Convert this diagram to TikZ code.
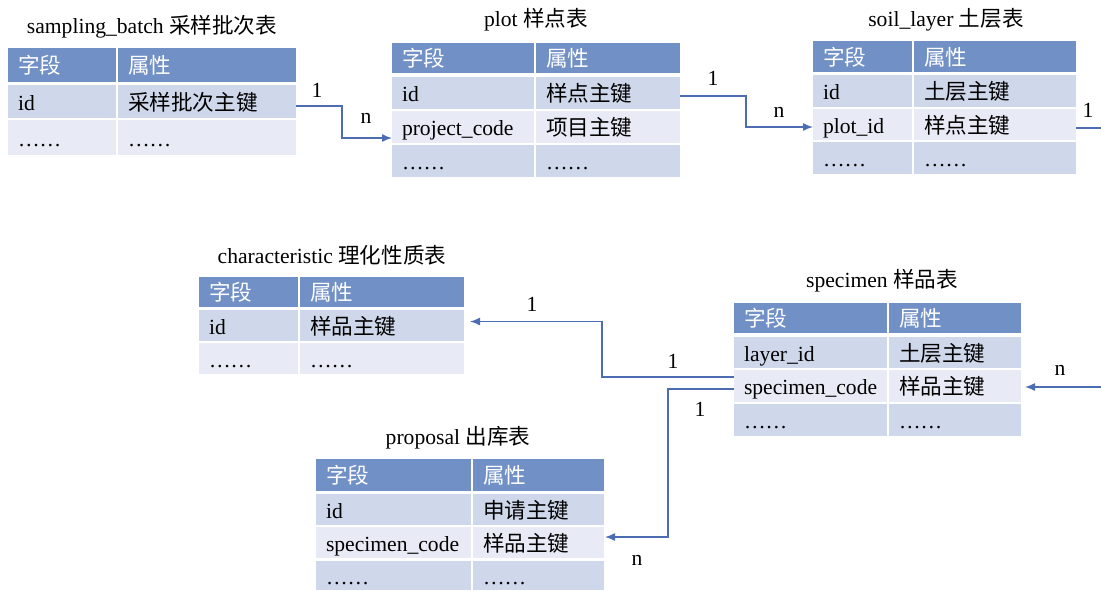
\documentclass[tikz,border=0pt]{standalone}
\usepackage{fontspec}
\setmainfont{Liberation Serif}
\newfontfamily\cjk{Noto Sans CJK SC}
\usetikzlibrary{arrows.meta}
\definecolor{hdr}{HTML}{7190C6}
\definecolor{bandA}{HTML}{CFD7EA}
\definecolor{bandB}{HTML}{E8EBF5}
\definecolor{conncol}{HTML}{4D6DB3}
\newcommand\zh[1]{{\cjk #1}}
\newcommand\tfont{\fontsize{21.6}{25}\selectfont}
\newcommand\trow[9]{%
  \pgfmathsetmacro\tAt{#4-21}\pgfmathsetmacro\tBt{#5-21}%
  \node[#7, minimum height=#6pt, text width=\tAt pt, anchor=north west] (#1a) at (#2,#3) {#8};
  \node[#7, minimum height=#6pt, text width=\tBt pt, anchor=north west] (#1b) at ([xshift=2pt]#1a.north east) {#9};
}
\tikzset{
  cell/.style={inner xsep=10pt, inner ysep=0pt, outer sep=0pt, align=left, text height=20pt, text depth=3pt, font=\tfont},
  hcell/.style={cell, fill=hdr, text=white},
  dcell/.style={cell, fill=bandA, text=black},
  lcell/.style={cell, fill=bandB, text=black},
  ttl/.style={font=\tfont, inner sep=0pt},
  lbl/.style={font=\tfont, inner sep=0pt},
  conn/.style={draw=conncol, line width=1.4pt},
  arr/.style={conn, -{Latex[length=10pt,width=8pt]}}
}
\begin{document}
\begin{tikzpicture}[x=1pt,y=-1pt]
\useasboundingbox (0,0) rectangle (1101,590);
\fill[white] (0,0) rectangle (1101,590);

% sampling_batch
\node[ttl] (sbt) at (152,27) {sampling\_batch \zh{采样批次表}};
\trow{sbh}{8}{48}{109}{179}{34}{hcell}{\zh{字段}}{\zh{属性}}
\trow{sb1}{8}{85}{109}{179}{33}{dcell}{id}{\zh{采样批次主键}}
\trow{sb2}{8}{120}{109}{179}{35}{lcell}{……}{……}

% plot
\node[ttl] (plt) at (536,20) {plot \zh{样点表}};
\trow{plh}{392}{43}{143}{145}{30}{hcell}{\zh{字段}}{\zh{属性}}
\trow{pl1}{392}{77}{143}{145}{32}{dcell}{id}{\zh{样点主键}}
\trow{pl2}{392}{111}{143}{145}{32}{lcell}{project\_code}{\zh{项目主键}}
\trow{pl3}{392}{145}{143}{145}{32}{dcell}{……}{……}

% soil_layer
\node[ttl] (sot) at (946,20) {soil\_layer \zh{土层表}};
\trow{soh}{813}{41}{100}{163}{31}{hcell}{\zh{字段}}{\zh{属性}}
\trow{so1}{813}{75}{100}{163}{32}{dcell}{id}{\zh{土层主键}}
\trow{so2}{813}{109}{100}{163}{31}{lcell}{plot\_id}{\zh{样点主键}}
\trow{so3}{813}{142}{100}{163}{32}{dcell}{……}{……}

% characteristic
\node[ttl] (cht) at (332,255) {characteristic \zh{理化性质表}};
\trow{chh}{199}{277}{100}{165}{30}{hcell}{\zh{字段}}{\zh{属性}}
\trow{ch1}{199}{310}{100}{165}{31}{dcell}{id}{\zh{样品主键}}
\trow{ch2}{199}{343}{100}{165}{31}{lcell}{……}{……}

% specimen
\node[ttl] (spt) at (882,281) {specimen \zh{样品表}};
\trow{sph}{734}{303}{154}{133}{30}{hcell}{\zh{字段}}{\zh{属性}}
\trow{sp1}{734}{337}{154}{133}{31}{dcell}{layer\_id}{\zh{土层主键}}
\trow{sp2}{734}{370}{154}{133}{32}{lcell}{specimen\_code}{\zh{样品主键}}
\trow{sp3}{734}{404}{154}{133}{32}{dcell}{……}{……}

% proposal
\node[ttl] (prt) at (458,438) {proposal \zh{出库表}};
\trow{prh}{316}{459}{156}{132}{32}{hcell}{\zh{字段}}{\zh{属性}}
\trow{pr1}{316}{494}{156}{132}{31}{dcell}{id}{\zh{申请主键}}
\trow{pr2}{316}{527}{156}{132}{31}{lcell}{specimen\_code}{\zh{样品主键}}
\trow{pr3}{316}{561}{156}{132}{29}{dcell}{……}{……}

% connectors
\coordinate (edgeA) at (1101,128);
\coordinate (edgeB) at (1101,387);
\draw[arr] ([yshift=-4.5pt]sb1b.east) -- ++(46,0) |- ([yshift=-11pt]pl2a.west);
\draw[arr] ([yshift=-3pt]pl1b.east) -- ++(66,0) |- ([yshift=-2.5pt]so2a.west);
\draw[conn] ([yshift=-3.5pt]so2b.east) -- (edgeA);
\draw[arr, shorten >=4pt] (edgeB) -- ([yshift=-1pt]sp2b.east);
\draw[arr, shorten >=6pt] ([yshift=9pt]sp2a.west) -- ++(-132,0) |- ([yshift=4pt]ch1b.east);
\draw[arr, shorten >=1pt] ([yshift=-3pt]sp2a.west) -- ++(-66,0) |- ([yshift=5.5pt]pr2b.east);

% labels
\node[lbl] (l1) at (317,90) {1};
\node[lbl] (l2) at (366,118) {n};
\node[lbl] (l3) at (713,78) {1};
\node[lbl] (l4) at (779,112) {n};
\node[lbl] (l5) at (1088,110) {1};
\node[lbl] (l6) at (1060,370) {n};
\node[lbl] (l7) at (532,304) {1};
\node[lbl] (l8) at (673,361) {1};
\node[lbl] (l9) at (700,409) {1};
\node[lbl] (l10) at (637,560) {n};
\end{tikzpicture}
\end{document}
